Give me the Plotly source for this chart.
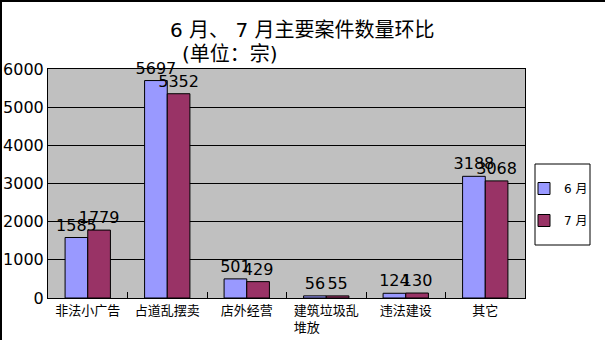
import plotly.graph_objects as go

categories = ["非法小广告", "占道乱摆卖", "店外经营", "建筑垃圾乱<br>堆放　　　", "违法建设", "其它"]
june = [1585, 5697, 501, 56, 124, 3188]
july = [1779, 5352, 429, 55, 130, 3068]
series_names = ["6 月", "7 月"]
title_line1 = "6 月、 7 月主要案件数量环比"
title_line2 = "(单位：宗)"

FONT = "DejaVu Sans, Noto Sans CJK SC, sans-serif"
W, H = 605, 340
L, R, T, B = 48, 525, 69, 298
pw, ph = R - L, B - T

def px(x):
    return (x - L) / pw

def py(y):
    return (B - y) / ph

fig = go.Figure()
fig.add_trace(go.Bar(
    x=categories, y=june, name=series_names[0],
    marker=dict(color="#9999ff", line=dict(color="black", width=1)),
    text=june, textposition="outside", cliponaxis=False, constraintext="none",
    textfont=dict(size=16, color="black", family=FONT),
    legendgroup="a",
))
fig.add_trace(go.Bar(
    x=categories, y=july, name=series_names[1],
    marker=dict(color="#993366", line=dict(color="black", width=1)),
    text=july, textposition="outside", cliponaxis=False, constraintext="none",
    textfont=dict(size=16, color="black", family=FONT),
    legendgroup="b",
))

fig.update_layout(
    width=W, height=H,
    margin=dict(l=L, r=W - R, t=T, b=H - B, pad=0, autoexpand=False),
    paper_bgcolor="white",
    plot_bgcolor="#c0c0c0",
    barmode="group",
    bargap=0.43,
    bargroupgap=0,
    font=dict(family=FONT, color="black"),
    showlegend=True,
    uniformtext=dict(mode=False),
    legend=dict(
        xref="container", yref="container",
        x=524 / W, y=1 - 174 / H, xanchor="left", yanchor="top",
        font=dict(size=12, color="black", family=FONT),
        bgcolor="rgba(0,0,0,0)", borderwidth=0,
        tracegroupgap=13, traceorder="grouped",
        itemwidth=30,
    ),
    xaxis=dict(
        automargin=False,
        showline=True, linecolor="black", linewidth=1, mirror=True,
        ticks="inside", ticklen=6, tickcolor="black", tickson="boundaries",
        tickfont=dict(size=13, color="black", family=FONT),
        showgrid=False,
    ),
    yaxis=dict(
        automargin=False,
        range=[0, 6000], dtick=1000,
        showline=True, linecolor="black", linewidth=1, mirror=True,
        showgrid=True, gridcolor="black", gridwidth=1,
        ticks="", tickfont=dict(size=16, color="black", family=FONT),
        zeroline=False,
    ),
    annotations=[
        dict(text=title_line1, x=px(302), y=py(30), xref="paper", yref="paper",
             showarrow=False, font=dict(size=20, color="black", family=FONT),
             xanchor="center", yanchor="middle"),
        dict(text=title_line2, x=px(230), y=py(54), xref="paper", yref="paper",
             showarrow=False, font=dict(size=20, color="black", family=FONT),
             xanchor="center", yanchor="middle"),
    ],
    shapes=[
        dict(type="rect", xref="paper", yref="paper",
             x0=px(535), x1=px(590), y0=py(245), y1=py(164),
             line=dict(color="black", width=1), fillcolor="white", layer="below"),
        dict(type="line", xref="paper", yref="paper",
             x0=px(1), x1=px(1), y0=py(340), y1=py(0),
             line=dict(color="black", width=2)),
        dict(type="line", xref="paper", yref="paper",
             x0=px(0), x1=px(605), y0=py(1), y1=py(1),
             line=dict(color="black", width=2)),
    ],
)

fig.write_html("out.html")
